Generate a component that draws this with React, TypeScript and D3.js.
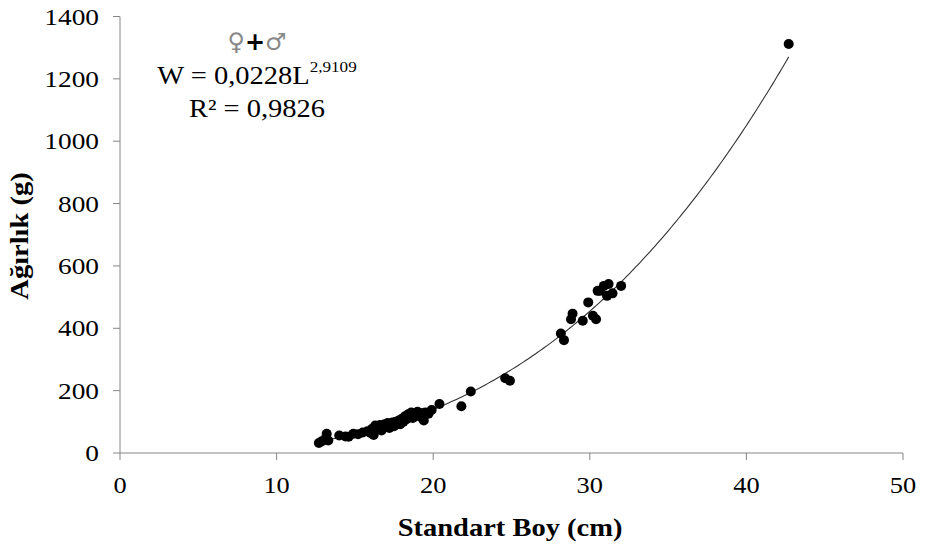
import React from "react";
import * as d3 from "d3";

const lengths: number[] = [
  12.7, 12.9, 13.1, 13.2, 13.3, 14.0, 14.4, 14.6, 14.9, 15.2, 15.5, 15.8, 16.0, 16.1, 16.2, 16.3,
  16.5, 16.6, 16.7, 16.8, 16.9, 17.0, 17.1, 17.2, 17.3, 17.4, 17.5, 17.6, 17.7, 17.8, 17.9, 18.0,
  18.1, 18.2, 18.3, 18.4, 18.5, 18.6, 18.7, 18.8, 18.9, 19.0, 19.1, 19.2, 19.3, 19.4, 19.5, 19.7,
  19.9, 20.4, 21.8, 22.4, 24.6, 24.9,
  28.15, 28.35, 28.9, 28.8, 29.55, 29.9, 30.2, 30.4, 30.5, 30.65, 30.9, 31.2, 31.1, 31.45, 32.0,
  42.7,
];
const weights: number[] = [
  32, 38, 45, 62, 40, 56, 53, 52, 62, 60, 66, 70, 64, 78, 58, 88,
  76, 90, 72, 82, 92, 84, 96, 80, 90, 98, 86, 100, 94, 104, 92, 110,
  100, 118, 108, 124, 114, 130, 112, 126, 118, 132, 122, 128, 112, 104, 130, 126,
  138, 157, 150, 197, 240, 232,
  383, 362, 447, 429, 424, 483, 440, 429, 520, 520, 536, 542, 504, 512, 536,
  1312,
];
const xTicks: number[] = [0, 10, 20, 30, 40, 50];
const yTicks: number[] = [0, 200, 400, 600, 800, 1000, 1200, 1400];
const coefA = 0.0228;
const coefB = 2.9109;
const curveRange: number[] = [12.7, 42.7];

const SERIF = "'Liberation Serif', 'Times New Roman', serif";

function SText(props: {
  x: number;
  y: number;
  sx?: number;
  size: number;
  anchor?: string;
  bold?: boolean;
  rotate?: number;
  children: React.ReactNode;
}) {
  const { x, y, sx = 1.14, size, anchor = "start", bold, rotate = 0, children } = props;
  return (
    <text
      transform={`translate(${x},${y}) rotate(${rotate}) scale(${sx},1)`}
      textAnchor={anchor}
      style={{ fontFamily: SERIF, fontSize: size, fontWeight: bold ? "bold" : "normal" }}
      fill="#000"
    >
      {children}
    </text>
  );
}

export default function App() {
  const W = 926;
  const H = 545;
  const x = d3.scaleLinear().domain([0, 50]).range([120, 903]);
  const y = d3.scaleLinear().domain([0, 1400]).range([453, 16.5]);
  const axisColor = "#868686";

  const curvePts: [number, number][] = d3
    .range(0, 201)
    .map((i) => curveRange[0] + ((curveRange[1] - curveRange[0]) * i) / 200)
    .map((L) => [L, coefA * Math.pow(L, coefB)] as [number, number]);
  const line = d3
    .line<[number, number]>()
    .x((d) => x(d[0]))
    .y((d) => y(d[1]));

  return (
    <div style={{ position: "absolute", left: 0, top: 0 }}>
      <svg width={W} height={H} style={{ display: "block", background: "#fff" }}>
        {/* axes */}
        <line x1={x(0)} x2={x(50)} y1={y(0)} y2={y(0)} stroke={axisColor} strokeWidth={1} />
        <line x1={x(0)} x2={x(0)} y1={y(0)} y2={y(1400)} stroke={axisColor} strokeWidth={1} />
        {xTicks.map((t) => (
          <g key={"xt" + t}>
            <line x1={x(t)} x2={x(t)} y1={y(0)} y2={y(0) + 7} stroke={axisColor} />
            <SText x={x(t)} y={y(0) + 40} size={24} anchor="middle" sx={1.1}>
              {t}
            </SText>
          </g>
        ))}
        {yTicks.map((t) => (
          <g key={"yt" + t}>
            <line x1={x(0) - 7} x2={x(0)} y1={y(t)} y2={y(t)} stroke={axisColor} />
            <SText x={99} y={y(t) + 8} size={24} anchor="end">
              {t}
            </SText>
          </g>
        ))}
        {/* axis titles */}
        <SText x={510} y={536} size={25} anchor="middle" bold>
          Standart Boy (cm)
        </SText>
        <SText x={28} y={236} size={25} anchor="middle" bold rotate={-90}>
          Ağırlık (g)
        </SText>
        {/* curve */}
        <path d={line(curvePts) || ""} fill="none" stroke="#333" strokeWidth={1.1} />
        {/* points */}
        {lengths.map((L, i) => (
          <circle key={"p" + i} cx={x(L)} cy={y(weights[i])} r={5} fill="#000" />
        ))}
        {/* annotation */}
        <text
          x={257}
          y={50}
          textAnchor="middle"
          style={{ fontFamily: "'DejaVu Sans', sans-serif", fontSize: 24 }}
        >
          <tspan fill="#888" fontWeight="normal">♀</tspan>
          <tspan fill="#000" fontWeight="bold">+</tspan>
          <tspan fill="#888" fontWeight="normal">♂</tspan>
        </text>
        <SText x={257} y={84} size={25} anchor="middle">
          W = 0,0228L
          <tspan style={{ fontSize: 15 }} dy={-12}>2,9109</tspan>
        </SText>
        <SText x={257} y={117} size={25} anchor="middle">
          R² = 0,9826
        </SText>
      </svg>
    </div>
  );
}
